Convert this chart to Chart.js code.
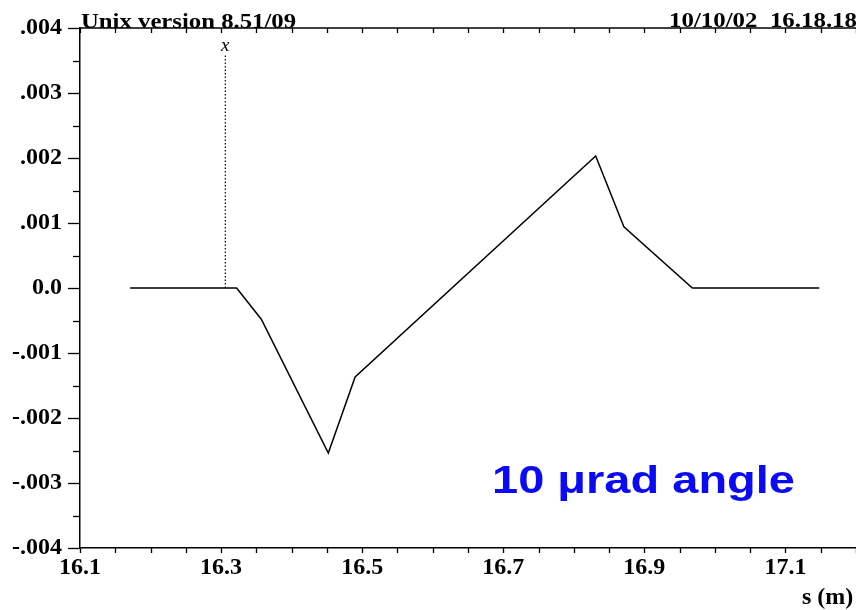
<!DOCTYPE html>
<html>
<head>
<meta charset="utf-8">
<script src="https://cdn.jsdelivr.net/npm/chart.js@4.4.1/dist/chart.umd.min.js"></script>
<style>
  html, body { margin: 0; padding: 0; background: #fff; overflow: hidden; }
  canvas { display: block; }
</style>
</head>
<body>
<canvas id="orbit" width="856" height="610"></canvas>
<script>
// trace values
var sPos  = [16.171, 16.322, 16.357, 16.452, 16.490, 16.831, 16.871, 16.968, 17.148];
var angle = [0, 0, -0.00048, -0.00254, -0.00137, 0.00203, 0.00094, 0, 0];

// element marker "x"
var markerS = [16.306, 16.306];
var markerV = [0, 0.00358];

// axis ticks
var xTickVals = [16.1, 16.15, 16.2, 16.25, 16.3, 16.35, 16.4, 16.45, 16.5, 16.55, 16.6, 16.65,
                 16.7, 16.75, 16.8, 16.85, 16.9, 16.95, 17.0, 17.05, 17.1, 17.15, 17.2];
var xLabels = ['16.1', '16.3', '16.5', '16.7', '16.9', '17.1'];
var yTickVals = [-0.004, -0.0035, -0.003, -0.0025, -0.002, -0.0015, -0.001, -0.0005, 0,
                 0.0005, 0.001, 0.0015, 0.002, 0.0025, 0.003, 0.0035, 0.004];
var yLabels = ['-.004', '-.003', '-.002', '-.001', '0.0', '.001', '.002', '.003', '.004'];

var serif = '"Liberation Serif", "DejaVu Serif", serif';

function isMajorY(v) {
    return Math.abs(v * 1000 - Math.round(v * 1000)) < 1e-6;
}

// draws text squeezed/stretched to a given width
function fitText(ctx, text, x, y, w) {
    var m = ctx.measureText(text).width;
    ctx.save();
    ctx.translate(x, y);
    ctx.scale(w / m, 1);
    ctx.fillText(text, 0, 0);
    ctx.restore();
}

var frame = {
    id: 'frame',
    afterDraw: function (chart) {
        var ctx = chart.ctx;
        var area = chart.chartArea;
        var xs = chart.scales.x, ys = chart.scales.y;
        ctx.save();
        ctx.strokeStyle = '#000';
        ctx.lineWidth = 1.5;

        // top axis line
        ctx.beginPath();
        ctx.moveTo(area.left, area.top);
        ctx.lineTo(chart.width, area.top);
        ctx.stroke();

        // x ticks, bottom outward and top inward
        ctx.lineWidth = 1.3;
        xTickVals.forEach(function (v) {
            var px = Math.round(xs.getPixelForValue(v)) + 0.5;
            ctx.beginPath();
            ctx.moveTo(px, area.bottom);
            ctx.lineTo(px, area.bottom + 5);
            ctx.moveTo(px, area.top);
            ctx.lineTo(px, area.top + 5);
            ctx.stroke();
        });

        // y ticks
        yTickVals.forEach(function (v) {
            var py = Math.round(ys.getPixelForValue(v)) + 0.5;
            var len = isMajorY(v) ? 12 : 7;
            ctx.beginPath();
            ctx.moveTo(area.left - len, py);
            ctx.lineTo(area.left, py);
            ctx.stroke();
        });

        // texts
        ctx.fillStyle = '#000';
        ctx.textBaseline = 'alphabetic';
        ctx.font = 'bold 21px ' + serif;
        fitText(ctx, 'Unix version 8.51/09', 81, 28, 215);
        fitText(ctx, '10/10/02  16.18.18', 669, 27, 188);

        ctx.font = 'italic 19px ' + serif;
        ctx.textAlign = 'center';
        ctx.fillText('x', xs.getPixelForValue(markerS[0]), ys.getPixelForValue(markerV[1]) - 4);

        ctx.textAlign = 'left';
        ctx.font = 'bold 24px ' + serif;
        ctx.fillText('s (m)', 802, 604);

        ctx.fillStyle = '#0a0af5';
        ctx.font = 'bold 38px "Liberation Sans", Arial, sans-serif';
        fitText(ctx, '10 \u03bcrad angle', 492, 493, 303);
        ctx.restore();
    }
};

var ctx = document.getElementById('orbit').getContext('2d');
new Chart(ctx, {
    type: 'line',
    data: {
        datasets: [{
            data: sPos.map(function (s, i) { return { x: s, y: angle[i] }; }),
            borderColor: '#000',
            borderWidth: 1.5,
            pointRadius: 0,
            tension: 0,
            fill: false
        }, {
            data: markerS.map(function (s, i) { return { x: s, y: markerV[i] }; }),
            borderColor: '#000',
            borderWidth: 1.2,
            borderDash: [1.5, 2],
            pointRadius: 0,
            fill: false
        }]
    },
    options: {
        responsive: false,
        animation: false,
        devicePixelRatio: 1,
        layout: { padding: { top: 28, right: 0, left: 0, bottom: 0 } },
        plugins: {
            legend: { display: false },
            tooltip: { enabled: false }
        },
        scales: {
            x: {
                type: 'linear',
                min: 16.1,
                max: 17.2,
                afterBuildTicks: function (scale) {
                    scale.ticks = xTickVals.map(function (v) { return { value: v }; });
                },
                afterFit: function (scale) {
                    scale.height = 62;
                    scale.paddingLeft = 0;
                    scale.paddingRight = 0;
                },
                grid: { display: false, drawTicks: false },
                border: { display: true, color: '#000', width: 1.5 },
                ticks: {
                    autoSkip: false,
                    maxRotation: 0,
                    padding: 5,
                    color: '#000',
                    font: { family: serif, size: 24, weight: 'bold' },
                    callback: function (v) {
                        var t = v.toFixed(1);
                        return (Math.abs(v * 10 - Math.round(v * 10)) < 1e-6 && xLabels.indexOf(t) >= 0) ? t : '';
                    }
                }
            },
            y: {
                min: -0.004,
                max: 0.004,
                afterBuildTicks: function (scale) {
                    scale.ticks = yTickVals.map(function (v) { return { value: v }; });
                },
                afterFit: function (scale) {
                    scale.width = 80;
                    scale.paddingTop = 0;
                    scale.paddingBottom = 0;
                },
                grid: { display: false, drawTicks: false },
                border: { display: true, color: '#000', width: 1.5 },
                ticks: {
                    autoSkip: false,
                    padding: 18,
                    color: '#000',
                    font: { family: serif, size: 24, weight: 'bold' },
                    callback: function (v) {
                        if (!isMajorY(v)) return '';
                        return yLabels[Math.round(v * 1000) + 4];
                    }
                }
            }
        }
    },
    plugins: [frame]
});
</script>
</body>
</html>
